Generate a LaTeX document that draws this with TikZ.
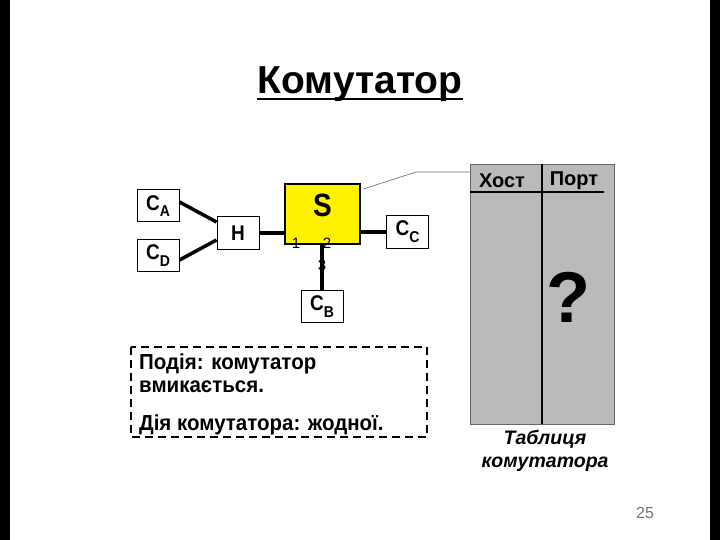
\documentclass[tikz,border=0pt]{standalone}
\usepackage{fontspec}
\setmainfont{Liberation Sans}
\newcommand{\vs}[1]{\scalebox{1}[1.12]{#1}}
\newcommand{\vb}[1]{\scalebox{1}[1.06]{#1}}
\newcommand{\sbx}[1]{\raisebox{-6pt}{\fontsize{14}{14}\selectfont #1}}
\begin{document}
\begin{tikzpicture}[x=1pt,y=-1pt,
  hostbox/.style={draw=black, line width=1pt, fill=white, minimum width=42pt, minimum height=32pt, inner sep=0pt, font=\bfseries\fontsize{19}{20}\selectfont},
  link/.style={line width=3.5pt},
  portlbl/.style={font=\fontsize{15}{15}\selectfont, inner sep=0pt},
  body/.style={font=\bfseries\fontsize{20.5}{22}\selectfont, anchor=base west, inner sep=0pt}]
\useasboundingbox (0,0) rectangle (720,540);
\fill[black] (0,0) rectangle (9.5,540);
\fill[black] (709.5,0) rectangle (720,540);
% title
\node[font=\bfseries\fontsize{39}{42}\selectfont, inner sep=0pt, anchor=base] (title) at (360,94) {Комутатор};
\draw[line width=2pt] (title.base west) ++(0,5) -- ([yshift=-5pt]title.base east);
% table
\node[draw=black!60, fill=black!27, minimum width=144pt, minimum height=260pt, inner sep=0pt, line width=0.6pt] (tbl) at (542,294) {};
\draw[line width=2.2pt] (542,164) -- (542,424);
\draw[line width=2pt] (470,192.5) -- (604,192.5);
\node[font=\bfseries\fontsize{20}{20}\selectfont, inner sep=0pt] (hhost) at (502,181) {Хост};
\node[font=\bfseries\fontsize{20}{20}\selectfont, inner sep=0pt] (hport) at (574,181) {Порт};
\node[font=\bfseries\fontsize{72}{76}\selectfont, inner sep=0pt] (q) at (568,297) {?};
\node[font=\bfseries\itshape\fontsize{19.5}{23}\selectfont, align=center, inner sep=0pt] (cap) at (545,451) {Таблиця\\комутатора};
% network
\node[draw=black, line width=1.5pt, fill=yellow, minimum width=75pt, minimum height=60pt, inner sep=0pt] (S) at (322.5,214) {};
\node[font=\bfseries\fontsize{28}{30}\selectfont, inner sep=0pt] (Slbl) at (322.5,205) {\scalebox{1}[1.15]{S}};
\node[hostbox] (CA) at (158,206) {\vs{C\sbx{A}}};
\node[hostbox] (CD) at (158,255.5) {\vs{C\sbx{D}}};
\node[hostbox] (H) at (238,233) {\vs{H}};
\node[hostbox] (CC) at (407.5,232) {\vs{C\sbx{C}}};
\node[hostbox] (CB) at (322,306.5) {\vs{C\sbx{B}}};
\draw[link] (CA.east) ++(0,-4) -- ([yshift=11pt]H.west);
\draw[link] (CD.east) ++(0,4.5) -- ([yshift=-7pt]H.west);
\draw[link] (H.east) -- (H.east -| S.west);
\draw[link] (CC.west -| S.east) -- (CC.west);
\node[portlbl] (p1) at (296,243) {1};
\node[portlbl] (p2) at (327,243) {2};
\node[portlbl] (p3) at (322,265) {3};
\coordinate (sb) at (S.south -| CB.north);
\draw[link] (sb) -- (CB.north);
\coordinate (bend) at (416,172);
\draw[black!60, line width=0.6pt] ([xshift=2pt,yshift=-6pt]S.north east) -- (bend) -- (tbl.north west |- bend);
% dashed box
\draw[dash pattern=on 8pt off 5pt, line width=1.5pt] (131,347) rectangle (427,437);
\node[body] (t1) at (139,369) {\vb{Подія: комутатор}};
\node[body] (t2) at (139,392) {\vb{вмикається.}};
\node[body] (t3) at (139,430) {\vb{Дія комутатора: жодної.}};
% page number
\node[text=black!55, font=\fontsize{16}{18}\selectfont, inner sep=0pt] (pg) at (645,513) {25};
\end{tikzpicture}
\end{document}
